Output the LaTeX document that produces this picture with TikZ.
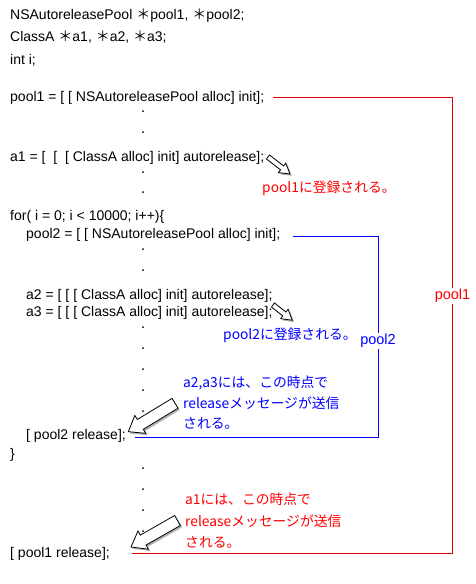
\documentclass[tikz,border=0pt]{standalone}
\usepackage{fontspec}
\setmainfont{Liberation Sans}
\newfontfamily\cjk{Noto Sans CJK JP}
\usetikzlibrary{shadows}
\newcommand{\fwast}{{\cjk ＊}}
% block arrow: #1 name, #2 tail, #3 angle, #4 length, #5 shaft width, #6 head width, #7 head length
\newcommand{\blockarrow}[7]{%
  \begin{scope}[shift={#2},rotate=#3]
    \coordinate (#1) at (0,0);
    \path[arrowbody] (0,-#5/2) -- (#4-#7,-#5/2) -- (#4-#7,-#6/2) -- (#4,0) -- (#4-#7,#6/2) -- (#4-#7,#5/2) -- (0,#5/2) -- cycle;
  \end{scope}}
\begin{document}
\begin{tikzpicture}[x=1pt,y=-1pt,
  code/.style={anchor=base west,inner sep=0pt,font=\fontsize{14}{16}\selectfont},
  note/.style={anchor=base west,inner sep=0pt,font=\cjk\fontsize{13.8}{16}\selectfont},
  lbl/.style={inner sep=1pt,fill=white,font=\fontsize{14.5}{16}\selectfont},
  dotmark/.style={circle,fill=black,inner sep=0pt,minimum size=2pt},
  arrowbody/.style={draw=black,fill=white,line width=0.8pt,line join=miter,
    drop shadow={shadow xshift=1.8pt,shadow yshift=-1.8pt,opacity=0.3,fill=black}},
  redline/.style={draw=red!90!black,line width=0.9pt},
  blueline/.style={draw=blue,line width=0.9pt}]
\useasboundingbox[fill=white] (0,0) rectangle (476,584);
% code lines
\node[code] (l1) at (10,19.5) {NSAutoreleasePool \fwast pool1, \fwast pool2;};
\node[code] (l2) at (10,41.5) {ClassA \fwast a1, \fwast a2, \fwast a3;};
\node[code] (l3) at (10,64.5) {int i;};
\node[code] (l4) at (10,101.5) {pool1 = [ [ NSAutoreleasePool alloc] init];};
\node[code] (l5) at (10,161.5) {a1 = [ \ [ \ [ ClassA alloc] init] autorelease];};
\node[code] (l6) at (10,220.7) {for( i = 0; i < 10000; i++)\{};
\node[code] (l7) at (26,238) {pool2 = [ [ NSAutoreleasePool alloc] init];};
\node[code] (l8) at (26,299) {a2 = [ [ [ ClassA alloc] init] autorelease];};
\node[code] (l9) at (26,316.7) {a3 = [ [ [ ClassA alloc] init] autorelease];};
\node[code] (l10) at (26,439.3) {[ pool2 release];};
\node[code] (l11) at (10,458) {\}};
\node[code] (l12) at (10,557.7) {[ pool1 release];};
% dots
\foreach \yy [count=\i] in {111,132,172,192,249,270,327,348,369,390,411,468,489,510,531}
  \node[dotmark] (d\i) at (143,\yy) {};
% notes
\node[note,text=red] (n1) at (262,192) {pool1に登録される。};
\node[note,text=blue] (n2) at (223,339) {pool2に登録される。};
\node[note,text=blue] (n3) at (183,387) {a2,a3には、この時点で};
\node[note,text=blue] (n4) at (183,408) {releaseメッセージが送信};
\node[note,text=blue] (n5) at (183,428) {される。};
\node[note,text=red] (n6) at (185,504) {a1には、この時点で};
\node[note,text=red] (n7) at (185,526) {releaseメッセージが送信};
\node[note,text=red] (n8) at (185,547) {される。};
% brackets
\coordinate (r1s) at (273,97);
\coordinate (r1e) at (132,553);
\coordinate (b1s) at (293,236);
\coordinate (b1e) at (135,437);
\node[lbl,text=red] (pl1) at (452.5,296) {pool1};
\node[lbl,text=blue] (pl2) at (378,341) {pool2};
\draw[redline] (r1s) -| (pl1.north);
\draw[redline] (pl1.south) |- (r1e);
\draw[blueline] (b1s) -| (pl2.north);
\draw[blueline] (pl2.south) |- (b1e);
% arrows
\blockarrow{a1}{(268,157)}{-37.7}{27.8}{5}{12}{10}
\blockarrow{a2}{(273,305)}{-38.3}{24.5}{5}{12}{10}
\blockarrow{a3}{(175,403.3)}{-148.7}{54.6}{11.5}{21}{14}
\blockarrow{a4}{(177.5,520.5)}{-150.3}{53.5}{11.5}{21}{14}
\end{tikzpicture}
\end{document}
